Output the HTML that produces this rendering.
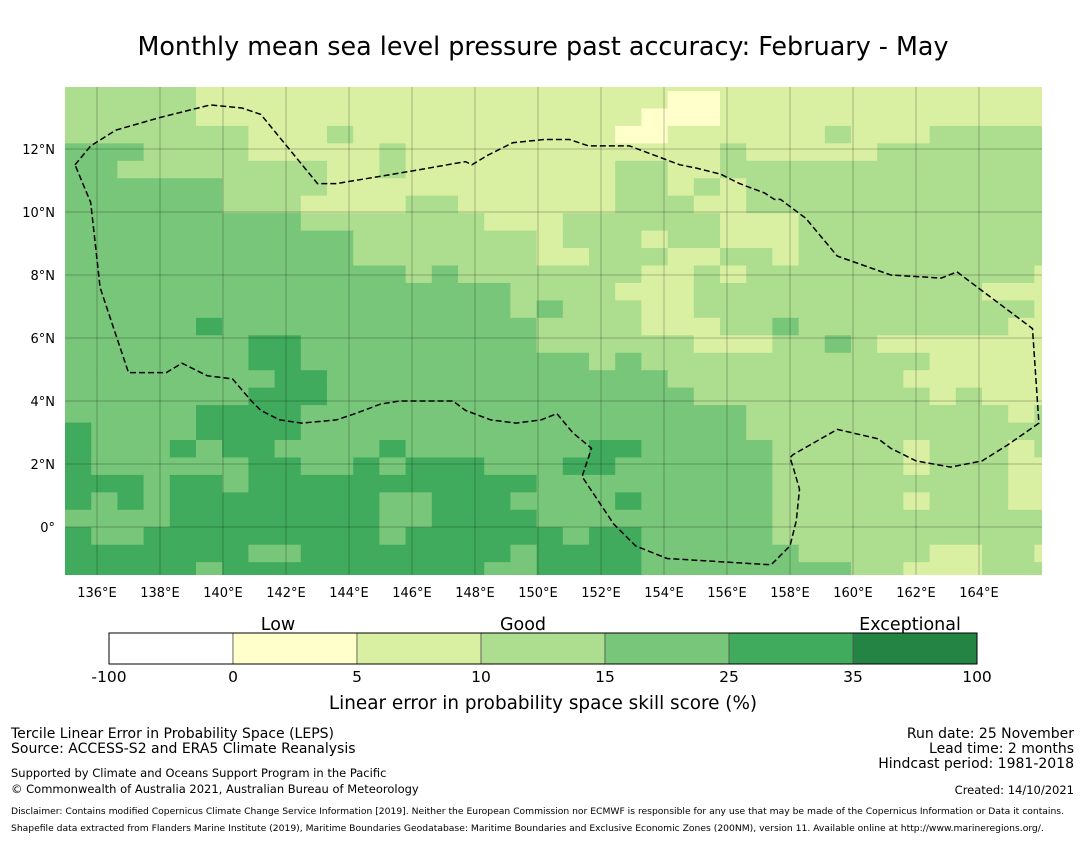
<!DOCTYPE html>
<html><head><meta charset="utf-8">
<style>
body{margin:0;background:#fff;font-family:"Liberation Sans",sans-serif;}
svg text{font-family:"DejaVu Sans","Liberation Sans",sans-serif;}
</style></head>
<body>
<svg id="chart" width="1085" height="839" viewBox="0 0 1085 839" xmlns="http://www.w3.org/2000/svg">
<text x="543" y="55" text-anchor="middle" font-size="25.4" fill="#000">Monthly mean sea level pressure past accuracy: February - May</text>
<defs><clipPath id="mapclip"><rect x="65" y="87" width="977" height="488"/></clipPath></defs>
<g id="cells" clip-path="url(#mapclip)"></g>
<g id="grid" clip-path="url(#mapclip)"></g>
<path id="eez" clip-path="url(#mapclip)" fill="none" stroke="#000" stroke-width="1.5" stroke-dasharray="6,3"/>
<g id="xticks"></g>
<g id="yticks"></g>
<g id="colorbar"></g>
<text x="278" y="630" text-anchor="middle" font-size="17.5">Low</text>
<text x="523" y="630" text-anchor="middle" font-size="17.5">Good</text>
<text x="910" y="630" text-anchor="middle" font-size="17.5">Exceptional</text>
<text x="543" y="709" text-anchor="middle" font-size="18.4">Linear error in probability space skill score (%)</text>
<g font-size="14" fill="#000">
<text x="11" y="738">Tercile Linear Error in Probability Space (LEPS)</text>
<text x="11" y="753">Source: ACCESS-S2 and ERA5 Climate Reanalysis</text>
<text x="1074" y="738" text-anchor="end">Run date: 25 November</text>
<text x="1074" y="753" text-anchor="end">Lead time: 2 months</text>
<text x="1074" y="768" text-anchor="end">Hindcast period: 1981-2018</text>
</g>
<g font-size="11.5" fill="#000">
<text x="11" y="777">Supported by Climate and Oceans Support Program in the Pacific</text>
<text x="11" y="793">© Commonwealth of Australia 2021, Australian Bureau of Meteorology</text>
<text x="1074" y="794" text-anchor="end">Created: 14/10/2021</text>
</g>
<g font-size="9.2" fill="#000">
<text x="11" y="814">Disclaimer: Contains modified Copernicus Climate Change Service Information [2019]. Neither the European Commission nor ECMWF is responsible for any use that may be made of the Copernicus Information or Data it contains.</text>
<text x="11" y="831">Shapefile data extracted from Flanders Marine Institute (2019), Maritime Boundaries Geodatabase: Maritime Boundaries and Exclusive Economic Zones (200NM), version 11. Available online at http://www.marineregions.org/.</text>
</g>
</svg>
<script>
// skill category per grid cell, run-length encoded per row: [category, count]
const rowRuns = [
[[3,5],[2,33]],
[[3,5],[2,18],[1,2],[2,13]],
[[3,5],[2,17],[1,3],[2,13]],
[[3,7],[2,3],[3,1],[2,10],[1,2],[2,6],[3,1],[2,3],[3,5]],
[[4,3],[3,4],[2,5],[3,1],[2,12],[3,1],[2,5],[3,7]],
[[4,2],[3,8],[2,2],[3,1],[2,8],[3,2],[2,2],[3,13]],
[[4,6],[3,4],[2,11],[3,2],[2,1],[3,1],[2,1],[3,12]],
[[4,6],[3,3],[2,4],[3,2],[2,6],[3,3],[2,2],[3,12]],
[[4,9],[3,7],[2,3],[3,6],[2,3],[3,10]],
[[4,11],[3,7],[2,1],[3,3],[2,1],[3,2],[2,3],[3,10]],
[[4,11],[3,7],[2,2],[3,3],[2,2],[3,2],[2,1],[3,10]],
[[4,13],[3,1],[4,1],[3,7],[2,2],[3,1],[2,1],[3,11],[2,1]],
[[4,17],[3,4],[2,3],[3,11],[2,3]],
[[4,17],[3,1],[4,1],[3,3],[2,2],[3,13],[2,1]],
[[4,5],[5,1],[4,12],[3,4],[2,3],[3,2],[4,1],[3,8],[2,2]],
[[4,7],[5,2],[4,9],[3,6],[2,3],[3,2],[4,1],[3,1],[2,7]],
[[4,7],[5,2],[4,11],[3,1],[4,1],[3,11],[2,5]],
[[4,8],[5,2],[4,13],[3,9],[2,6]],
[[4,7],[5,3],[4,14],[3,9],[2,1],[3,1],[2,3]],
[[4,5],[5,4],[4,17],[3,10],[2,1],[3,1]],
[[5,1],[4,4],[5,4],[4,17],[3,12]],
[[5,1],[4,3],[5,1],[4,1],[5,2],[4,4],[5,1],[4,7],[5,2],[4,5],[3,5],[2,1],[3,3],[2,1],[3,1]],
[[5,1],[4,6],[5,2],[4,2],[5,1],[4,1],[5,3],[4,3],[5,2],[4,6],[3,5],[2,1],[3,3],[2,2]],
[[5,3],[4,1],[5,2],[4,1],[5,11],[4,9],[3,9],[2,2]],
[[5,1],[4,1],[5,1],[4,1],[5,8],[4,2],[5,3],[4,4],[5,1],[4,5],[3,5],[2,1],[3,3],[2,2]],
[[4,4],[5,8],[4,2],[5,4],[4,9],[3,11]],
[[5,1],[4,2],[5,9],[4,1],[5,6],[4,1],[5,2],[4,5],[3,11]],
[[5,7],[4,2],[5,8],[4,1],[5,4],[4,6],[3,5],[2,2],[3,2],[2,1]],
[[5,5],[4,1],[5,10],[4,2],[5,4],[4,8],[3,2],[2,3],[3,3]]
];
const colorBins = ["-100","0","5","10","15","25","35","100"];
const binColors = ["#ffffff","#ffffcc","#d9f0a3","#addd8e","#78c679","#41ab5d","#238443"];
const lonTicks = [136,138,140,142,144,146,148,150,152,154,156,158,160,162,164];
const latTicks = [12,10,8,6,4,2,0];
// boundary polygon (lon, lat)
const eezLon = [135.3,135.8,136.6,138.0,139.6,140.6,141.2,143.0,143.6,146.0,147.7,147.9,148.4,149.2,150.2,151.0,151.6,152.1,152.9,153.7,154.5,155.0,155.8,156.4,157.2,157.5,157.7,158.5,159.5,161.2,162.8,163.3,165.7,165.9,164.9,164.1,163.1,162.0,161.2,160.8,159.5,158.1,158.0,158.1,158.3,158.2,158.0,157.4,154.1,153.1,152.4,151.4,151.7,151.1,150.6,150.1,149.3,148.5,147.7,147.3,146.3,145.6,145.0,144.2,143.6,142.5,141.8,141.2,140.9,140.3,139.5,138.7,138.2,137.0,136.7,136.1,135.8,135.3];
const eezLat = [11.5,12.1,12.6,13.0,13.4,13.3,13.1,10.9,10.9,11.3,11.6,11.5,11.8,12.2,12.3,12.3,12.1,12.1,12.1,11.8,11.5,11.4,11.2,10.9,10.6,10.4,10.4,9.8,8.6,8.0,7.9,8.1,6.3,3.3,2.6,2.1,1.9,2.1,2.5,2.8,3.1,2.3,2.2,1.9,1.2,0.2,-0.6,-1.2,-1.0,-0.6,0.1,1.6,2.5,3.0,3.6,3.4,3.3,3.4,3.7,4.0,4.0,4.0,3.9,3.6,3.4,3.3,3.4,3.7,4.0,4.7,4.8,5.2,4.9,4.9,5.8,7.6,10.3,11.5];
const NS="http://www.w3.org/2000/svg";
function xOf(lon){return 97+(lon-136)*31.5;}
function yOf(lat){return 527-lat*31.5;}
const cellW=26.2, cellH=17.45, x0=65, y0=73.55;
const cellsG=document.getElementById('cells');
rowRuns.forEach((runs,r)=>{
  let c=0;
  runs.forEach(([cat,n])=>{
    const rect=document.createElementNS(NS,'rect');
    rect.setAttribute('x',x0+c*cellW);
    rect.setAttribute('y',y0+r*cellH);
    rect.setAttribute('width',n*cellW+0.6);
    rect.setAttribute('height',cellH+0.6);
    rect.setAttribute('fill',binColors[cat]);
    
    
    cellsG.appendChild(rect);
    c+=n;
  });
});
const gridG=document.getElementById('grid');
lonTicks.forEach(lon=>{
  const l=document.createElementNS(NS,'line');
  l.setAttribute('x1',xOf(lon));l.setAttribute('x2',xOf(lon));l.setAttribute('y1',87);l.setAttribute('y2',575);
  l.setAttribute('stroke','rgba(0,0,0,0.25)');l.setAttribute('stroke-width','1');
  
  
  gridG.appendChild(l);
  const t=document.createElementNS(NS,'text');
  t.setAttribute('x',xOf(lon));t.setAttribute('y',597);t.setAttribute('text-anchor','middle');t.setAttribute('font-size','13');
  t.textContent=lon+'°E';
  
  
  document.getElementById('xticks').appendChild(t);
});
latTicks.forEach(lat=>{
  const l=document.createElementNS(NS,'line');
  l.setAttribute('x1',65);l.setAttribute('x2',1042);l.setAttribute('y1',yOf(lat));l.setAttribute('y2',yOf(lat));
  l.setAttribute('stroke','rgba(0,0,0,0.25)');l.setAttribute('stroke-width','1');
  
  
  gridG.appendChild(l);
  const t=document.createElementNS(NS,'text');
  t.setAttribute('x',55);t.setAttribute('y',yOf(lat)+5);t.setAttribute('text-anchor','end');t.setAttribute('font-size','13');
  t.textContent=lat===0?'0°':lat+'°N';
  
  
  document.getElementById('yticks').appendChild(t);
});
document.getElementById('eez').setAttribute('d',eezLon.map((lo,i)=>(i?'L':'M')+xOf(lo).toFixed(1)+','+yOf(eezLat[i]).toFixed(1)).join(' '));
const cb=document.getElementById('colorbar');
const segW=124;
binColors.forEach((col,i)=>{
  const r=document.createElementNS(NS,'rect');
  r.setAttribute('x',109+i*segW);r.setAttribute('y',633);r.setAttribute('width',segW);r.setAttribute('height',31);
  r.setAttribute('fill',col);r.setAttribute('stroke','#555');r.setAttribute('stroke-width','0.8');
  
  
  cb.appendChild(r);
});
colorBins.forEach((lab,i)=>{
  const t=document.createElementNS(NS,'text');
  t.setAttribute('x',109+i*segW);t.setAttribute('y',682);t.setAttribute('text-anchor','middle');t.setAttribute('font-size','15.5');
  t.textContent=lab;
  
  
  cb.appendChild(t);
});
const f=document.createElementNS(NS,'rect');
f.setAttribute('x',109);f.setAttribute('y',633);f.setAttribute('width',868);f.setAttribute('height',31);f.setAttribute('fill','none');f.setAttribute('stroke','#000');


cb.appendChild(f);
</script>
</body></html>
